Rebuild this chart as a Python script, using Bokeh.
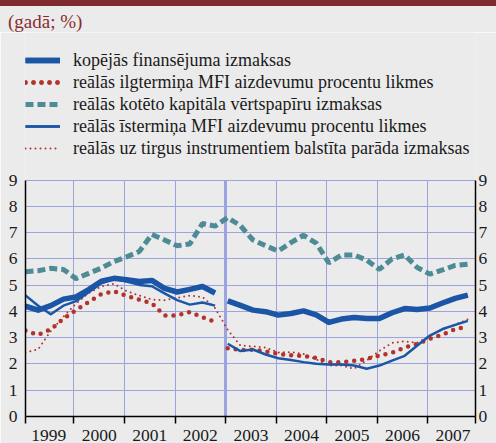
from bokeh.plotting import figure
from bokeh.models import Range1d, FixedTicker, LinearAxis, Grid, Legend, LegendItem, Div
from bokeh.layouts import column
from bokeh.embed import file_html
from bokeh.resources import INLINE

# ---- data (quarterly, %) ----
years = list(range(1999, 2008))
quarters = [f"{y}Q{q}" for y in years for q in range(1, 5)]
year_labels = [str(y) for y in years]

composite = [4.20, 4.05, 4.22, 4.47, 4.55, 4.83, 5.15, 5.26, 5.21, 5.14, 5.18, 4.88,
             4.74, 4.84, 4.95, 4.70, 4.40, 4.23, 4.05, 3.99, 3.86, 3.92, 4.02, 3.87,
             3.58, 3.71, 3.77, 3.73, 3.73, 3.95, 4.11, 4.07, 4.13, 4.32, 4.50, 4.62]
lt_mfi = [3.27, 3.11, 3.32, 3.72, 4.05, 4.36, 4.66, 4.77, 4.59, 4.45, 4.31, 3.85,
          3.85, 3.98, 3.78, 3.60, 2.60, 2.53, 2.54, 2.48, 2.38, 2.33, 2.31, 2.23,
          2.07, 2.06, 2.12, 2.19, 2.32, 2.43, 2.63, 2.77, 2.96, 3.12, 3.33, 3.42]
equity = [5.51, 5.55, 5.64, 5.60, 5.25, 5.45, 5.65, 5.90, 6.08, 6.28, 6.93, 6.72,
          6.50, 6.57, 7.35, 7.25, 7.57, 7.27, 6.72, 6.50, 6.30, 6.62, 6.90, 6.60,
          5.85, 6.15, 6.15, 5.95, 5.60, 6.00, 6.15, 5.67, 5.42, 5.58, 5.75, 5.80]
st_mfi = [4.61, 4.22, 3.89, 4.22, 4.39, 4.73, 5.07, 5.25, 5.14, 5.01, 4.96, 4.69,
          4.43, 4.26, 4.34, 4.22, 2.77, 2.49, 2.55, 2.36, 2.22, 2.15, 2.07, 2.01,
          1.98, 1.98, 1.94, 1.82, 1.94, 2.13, 2.31, 2.70, 3.08, 3.33, 3.49, 3.64]
market_debt = [2.44, 2.56, 3.25, 3.80, 4.30, 4.70, 4.95, 5.05, 4.77, 4.61, 4.45, 4.43,
               4.52, 4.60, 4.55, 4.13, 3.30, 2.70, 2.67, 2.62, 2.44, 2.45, 2.38, 2.18,
               1.94, 1.94, 1.82, 2.14, 2.50, 2.80, 2.86, 2.81, 3.07, 3.32, 3.50, 3.70]
break_quarter = "2003Q1"   # statistical break in MFI series
y_ticks = list(range(0, 10))

names = ["kopējās finansējuma izmaksas",
         "reālās ilgtermiņa MFI aizdevumu procentu likmes",
         "reālās kotēto kapitāla vērtspapīru izmaksas",
         "reālās īstermiņa MFI aizdevumu procentu likmes",
         "reālās uz tirgus instrumentiem balstīta parāda izmaksas"]

def qpos(label):
    y, q = int(label[:4]), int(label[-1])
    return y + (q - 1) / 4 + 1 / 24

x = [qpos(q) for q in quarters]
b = quarters.index(break_quarter)

BG = "#ebebeb"
GRID = "#9ba4df"
BLUE = "#1b56a6"
RED = "#b3332c"
TEAL = "#4d8b97"
FONT = "Liberation Serif"

header = Div(
    text=('<div style="background:#7f2a2f;height:6px;width:496px"></div>'
          '<div style="font-family:\'Liberation Serif\';font-size:19px;line-height:19px;'
          'color:#8a2c2f;margin-top:6px;padding-left:8px;">(gadā; %)</div>'),
    width=496, height=32, margin=0, styles={"background-color": BG})

# plot frame extends above the value axis to hold the legend
p = figure(width=496, height=411, output_backend="svg", toolbar_location=None,
           x_range=Range1d(x[0], 2007.943), y_range=Range1d(0, 14.62),
           background_fill_color=BG, border_fill_color=BG, outline_line_color=None,
           min_border_top=0, min_border_left=25, min_border_right=21, min_border_bottom=0,
           x_axis_location=None, y_axis_location=None, margin=0)

p.ygrid.ticker = FixedTicker(ticks=y_ticks)
p.ygrid.grid_line_color = GRID
p.xgrid.ticker = FixedTicker(ticks=[y for y in years[1:] if y != 2003])
p.xgrid.grid_line_color = GRID
p.xgrid.cross_bounds = (0, 9)
brk = Grid(dimension=0, ticker=FixedTicker(ticks=[2003]), grid_line_color=GRID,
           grid_line_width=3, cross_bounds=(0, 9))
p.add_layout(brk)

# axes
xax = LinearAxis(ticker=FixedTicker(ticks=[y + 0.5 for y in years],
                                    minor_ticks=[x[0]] + years[1:] + [2007.943]),
                 major_label_overrides={y + 0.5: lab for y, lab in zip(years, year_labels)})
xax.major_tick_line_color = None
xax.major_tick_out = 0
xax.minor_tick_out = 7
xax.minor_tick_in = 0
xax.minor_tick_line_color = "black"
xax.minor_tick_line_width = 1.5
xax.major_label_standoff = 6
p.add_layout(xax, "below")

for side, standoff in (("left", 8), ("right", 3)):
    ax = LinearAxis(ticker=FixedTicker(ticks=y_ticks), bounds=(0, 9))
    ax.major_tick_out = 0
    ax.major_tick_in = 0
    ax.minor_tick_line_color = None
    ax.major_label_standoff = standoff
    p.add_layout(ax, side)

for ax in p.axis:
    ax.axis_line_color = "black"
    ax.axis_line_width = 1.5
    ax.major_label_text_font = FONT
    ax.major_label_text_font_size = "17.5px"
    ax.major_label_text_color = "#1a1a1a"

def broken(vals, **kw):
    r1 = p.line(x[:b], vals[:b], **kw)
    r2 = p.line(x[b:], vals[b:], **kw)
    return [r1, r2]

r_eq = [p.line(x, equity, line_color=TEAL, line_width=5, line_dash="8 4")]
r_md = [p.line(x, market_debt, line_color=RED, line_width=2, line_dash="0 5", line_cap="round")]
r_lt = broken(lt_mfi, line_color=RED, line_width=4.5, line_dash="0 8", line_cap="round")
r_st = broken(st_mfi, line_color=BLUE, line_width=2.5, line_join="round")
r_co = broken(composite, line_color=BLUE, line_width=5.5, line_join="round")

legend = Legend(items=[LegendItem(label=names[0], renderers=r_co),
                       LegendItem(label=names[1], renderers=r_lt),
                       LegendItem(label=names[2], renderers=r_eq),
                       LegendItem(label=names[3], renderers=r_st),
                       LegendItem(label=names[4], renderers=r_md)],
                location=(0, 257), glyph_width=35, glyph_height=22, label_height=22,
                label_standoff=13, spacing=0, padding=0, margin=0,
                border_line_alpha=0, background_fill_alpha=0,
                label_text_font=FONT, label_text_font_size="18px",
                label_text_line_height=1.1, label_text_color="#1a1a1a")
p.add_layout(legend)

layout = column(header, p, spacing=0, margin=0)
open("out.html", "w").write(file_html(layout, INLINE))
